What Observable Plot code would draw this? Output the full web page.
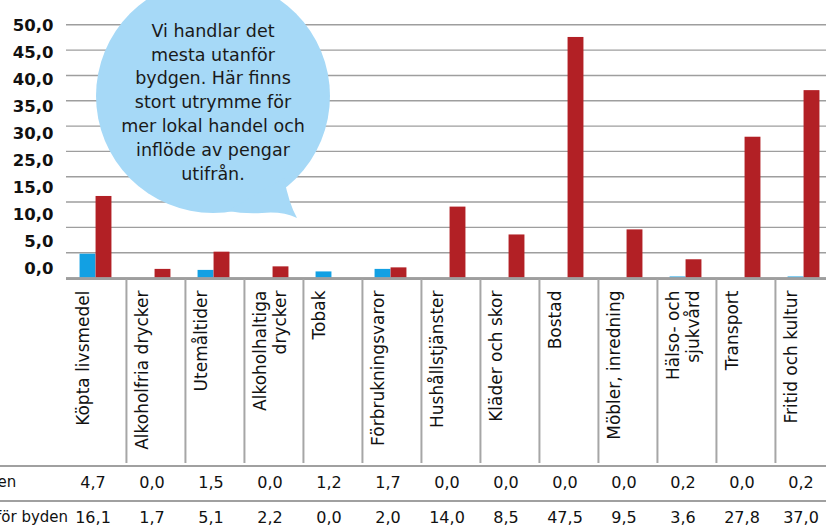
<!DOCTYPE html>
<html>
<head>
<meta charset="utf-8">
<script src="https://cdn.jsdelivr.net/npm/d3@7"></script>
<script src="https://cdn.jsdelivr.net/npm/@observablehq/plot@0.6"></script>
<style>
  body { margin: 0; background: #fff; }
  #wrap { position: relative; width: 826px; height: 528px; overflow: hidden; background: #fff; }
  #wrap > svg, #wrap > div { position: absolute; }
</style>
</head>
<body>
<div id="wrap"></div>
<script>
// ---- data ----
const categories = [
  "Köpta livsmedel", "Alkoholfria drycker", "Utemåltider", "Alkoholhaltiga\ndrycker",
  "Tobak", "Förbrukningsvaror", "Hushållstjänster", "Kläder och skor", "Bostad",
  "Möbler, inredning", "Hälso- och\nsjukvård", "Transport", "Fritid och kultur"
];
const seriesNames = ["I byden", "Utanför byden"];
const iByden       = [4.7, 0.0, 1.5, 0.0, 1.2, 1.7, 0.0, 0.0, 0.0, 0.0, 0.2, 0.0, 0.2];
const utanforByden = [16.1, 1.7, 5.1, 2.2, 0.0, 2.0, 14.0, 8.5, 47.5, 9.5, 3.6, 27.8, 37.0];
const yGridValues  = [0, 5, 10, 15, 20, 25, 30, 35, 40, 45, 50];
const yTickLabels  = [50, 45, 40, 35, 30, 25, 15, 10, 5, 0];
const bubbleLines  = [
  "Vi handlar det", "mesta utanför", "bydgen. Här finns", "stort utrymme för",
  "mer lokal handel och", "inflöde av pengar", "utifrån."
];

// ---- derived tables ----
const fmt = v => d3.format(".1f")(v).replace(".", ",");
const rows = categories.map((c, i) => ({category: c, inside: iByden[i], outside: utanforByden[i]}));
const tableRows = [];
categories.forEach((c, i) => {
  tableRows.push({category: c, series: seriesNames[0], value: iByden[i]});
  tableRows.push({category: c, series: seriesNames[1], value: utanforByden[i]});
});

// ---- layout / style ----
const FONT = "DejaVu Sans";
const BLUE = "#12a0e3", RED = "#b22025", GRID = "#9e9e9e", BUBBLE = "#a6d9f7";
const xRange = [65.9, 834.4];
const bw = (xRange[1] - xRange[0]) / categories.length;
const barW = 16, shift = -1;
const xScale = {type: "band", domain: categories, range: xRange, padding: 0, axis: null};

const wrap = document.getElementById("wrap");

// main chart
const chart = Plot.plot({
  width: 826, height: 463,
  marginTop: 0, marginRight: 0, marginBottom: 0, marginLeft: 66,
  x: xScale,
  y: {domain: [0, 50], range: [277.5, 24.3], axis: null},
  style: {fontFamily: FONT, fontSize: "17px", color: "#111", background: "white"},
  marks: [
    Plot.ruleY(yGridValues, {stroke: GRID, strokeWidth: 1.4}),
    Plot.barY(rows, {x: "category", y: "inside", fill: BLUE,
      insetLeft: bw / 2 + shift - barW, insetRight: bw / 2 - shift}),
    Plot.barY(rows, {x: "category", y: "outside", fill: RED,
      insetLeft: bw / 2 + shift, insetRight: bw / 2 - shift - barW}),
    Plot.ruleY([0], {stroke: GRID, strokeWidth: 2.8, dy: 0.6}),
    Plot.ruleX(categories.slice(1), {x: d => d, dx: -bw / 2, stroke: "#a6a6a6", strokeWidth: 2, insetTop: 279}),
    Plot.text(categories, {x: d => d, y: 0, text: d => d, rotate: -90,
      textAnchor: "end", lineAnchor: "top", lineHeight: 1.2,
      dx: -bw / 2 + 7, dy: 12.5, fill: "#111", fontSize: 17})
  ]
});
chart.style.left = "0px"; chart.style.top = "0px";
wrap.appendChild(chart);

// table below
const table = Plot.plot({
  width: 826, height: 65, margin: 0,
  x: xScale,
  y: {type: "point", domain: seriesNames, range: [18.7, 53.7], padding: 0, axis: null},
  style: {fontFamily: FONT, fontSize: "16px", color: "#111", background: "white"},
  marks: [
    Plot.ruleY(seriesNames, {y: d => d, dy: -16.5, stroke: "#a0a0a0", strokeWidth: 2}),
    Plot.text(tableRows, {x: "category", y: "series", text: d => fmt(d.value), dx: -4, fill: "#111"}),
    Plot.text(seriesNames, {y: d => d, text: d => d, frameAnchor: "left", textAnchor: "start",
      dx: -40, fontSize: 15, fill: "#111"})
  ]
});
table.style.left = "0px"; table.style.top = "463px";
wrap.appendChild(table);

// y tick labels (as printed in the original)
const yLabels = Plot.plot({
  width: 60, height: 290, margin: 0,
  y: {type: "point", domain: yTickLabels, range: [21, 272.5], padding: 0, axis: null},
  style: {fontFamily: FONT, fontSize: "16.5px", color: "#111", background: "transparent"},
  marks: [
    Plot.text(yTickLabels, {y: d => d, text: d => fmt(d), frameAnchor: "right",
      textAnchor: "end", dx: -7, fontWeight: "bold", fill: "#111"})
  ]
});
yLabels.style.left = "0px"; yLabels.style.top = "0px";
wrap.appendChild(yLabels);

// speech bubble annotation
const ns = "http://www.w3.org/2000/svg";
const bub = document.createElementNS(ns, "svg");
bub.setAttribute("width", 826); bub.setAttribute("height", 528);
bub.style.left = "0px"; bub.style.top = "0px"; bub.style.position = "absolute";
const circ = document.createElementNS(ns, "circle");
circ.setAttribute("cx", 213); circ.setAttribute("cy", 96); circ.setAttribute("r", 117);
circ.setAttribute("fill", BUBBLE);
bub.appendChild(circ);
const tail = document.createElementNS(ns, "path");
tail.setAttribute("d", "M284,178 Q289,204 297,218 Q282,211 262,213 Q244,214 228,211 Z");
tail.setAttribute("fill", BUBBLE);
bub.appendChild(tail);
const txt = document.createElementNS(ns, "text");
txt.setAttribute("text-anchor", "middle");
txt.setAttribute("font-family", FONT);
txt.setAttribute("font-size", "17.5px");
txt.setAttribute("fill", "#1a1a1a");
bubbleLines.forEach((line, i) => {
  const t = document.createElementNS(ns, "tspan");
  t.setAttribute("x", 213);
  t.setAttribute("y", 36.7 + i * 23.8);
  t.textContent = line;
  txt.appendChild(t);
});
bub.appendChild(txt);
wrap.appendChild(bub);
</script>
</body>
</html>
